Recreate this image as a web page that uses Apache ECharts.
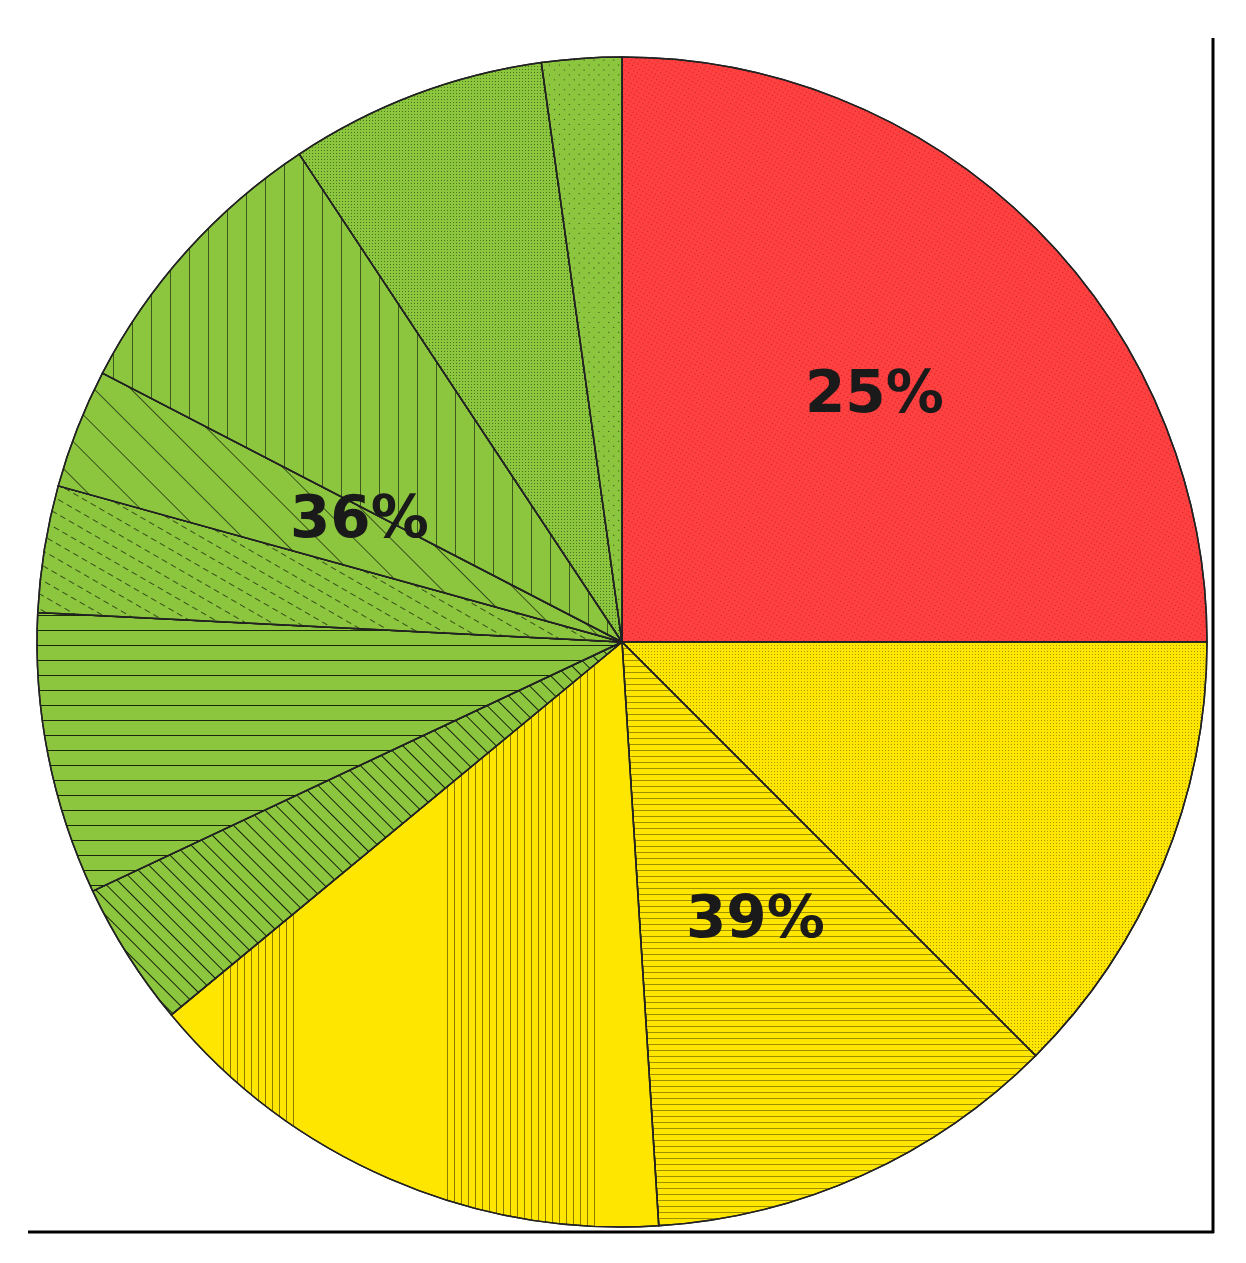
<!DOCTYPE html>
<html>
<head>
    <meta charset="utf-8">
    <script src="https://cdn.jsdelivr.net/npm/echarts@6/dist/echarts.min.js"></script>
    <style>
        body, html { margin: 0; height: 100%; background: #fff; }
        #main { width: 1246px; height: 1263px; }
    </style>
</head>
<body>
<div id="main"></div>
<script>
    // slices clockwise from 12 o'clock
    var sliceNames = ['r1', 'y1', 'y2', 'y3', 'g1', 'g2', 'g3', 'g4', 'g5', 'g6', 'g7'];
    var sliceValues = [25, 12.5, 11.5, 15, 4, 7.8, 3.5, 3.3, 8.1, 7.1, 2.2];
    var groupLabels = ['25%', '39%', '36%'];

    var RED = '#ff4040', YEL = '#ffe600', GRN = '#8cc63f';
    var line = function (rot, gap, c) {
        return { symbol: 'rect', symbolSize: 1, dashArrayX: [[1, 0]], dashArrayY: [1, gap], rotation: rot, color: c };
    };
    var dots = function (gap, c) {
        return { symbol: 'rect', symbolSize: 1, dashArrayX: [1, gap], dashArrayY: [1, gap], color: c };
    };
    var styles = [
        { color: RED, decal: dots(3, 'rgba(120,0,0,0.45)') },
        { color: YEL, decal: dots(2, 'rgba(90,80,0,0.5)') },
        { color: YEL, decal: line(0, 5, 'rgba(80,70,0,0.55)') },
        { color: YEL, decal: line(Math.PI / 2, 6, 'rgba(60,50,0,0.6)') },
        { color: GRN, decal: line(Math.PI / 4, 10, 'rgba(0,0,0,0.85)') },
        { color: GRN, decal: line(0, 14, 'rgba(0,0,0,0.8)') },
        { color: GRN, decal: { symbol: 'rect', symbolSize: 1, dashArrayX: [6, 4], dashArrayY: [1, 12], color: 'rgba(0,0,0,0.6)' } },
        { color: GRN, decal: { symbol: 'rect', symbolSize: 1, dashArrayX: [[1, 0]], dashArrayY: [1, 25], rotation: Math.PI / 4, color: 'rgba(0,0,0,0.6)' } },
        { color: GRN, decal: { symbol: 'rect', symbolSize: 1, dashArrayX: [[1, 0]], dashArrayY: [1, 18], rotation: Math.PI / 2, color: 'rgba(0,0,0,0.55)' } },
        { color: GRN, decal: dots(2, 'rgba(0,40,0,0.5)') },
        { color: GRN, decal: { symbol: 'rect', symbolSize: 1, dashArrayX: [1, 6], dashArrayY: [1, 6], rotation: Math.PI / 4, color: 'rgba(0,0,0,0.7)' } }
    ];

    var data = sliceNames.map(function (n, i) {
        return {
            name: n, value: sliceValues[i],
            itemStyle: { color: styles[i].color, decal: styles[i].decal, borderColor: '#222', borderWidth: 1.5 }
        };
    });

    var txt = function (x, y, s) {
        return {
            type: 'text', x: x, y: y, z: 100,
            style: { text: s, fontSize: 58, fontWeight: 'bold', fontFamily: 'DejaVu Sans', fill: '#1a1a1a' }
        };
    };

    var myChart = echarts.init(document.getElementById('main'));
    myChart.setOption({
        animation: false,
        aria: { enabled: true, decal: { show: true } },
        series: [{
            type: 'pie',
            center: [622, 642],
            radius: 585,
            startAngle: 90,
            clockwise: true,
            label: { show: false },
            labelLine: { show: false },
            emphasis: { disabled: true },
            data: data
        }],
        graphic: [
            txt(805, 368, groupLabels[0]),
            txt(686, 893, groupLabels[1]),
            txt(290, 493, groupLabels[2]),
            { type: 'line', z: 100, shape: { x1: 28, y1: 1232, x2: 1214, y2: 1232 }, style: { stroke: '#000', lineWidth: 3 } },
            { type: 'line', z: 100, shape: { x1: 1213, y1: 38, x2: 1213, y2: 1233 }, style: { stroke: '#000', lineWidth: 3 } }
        ]
    });
</script>
</body>
</html>
